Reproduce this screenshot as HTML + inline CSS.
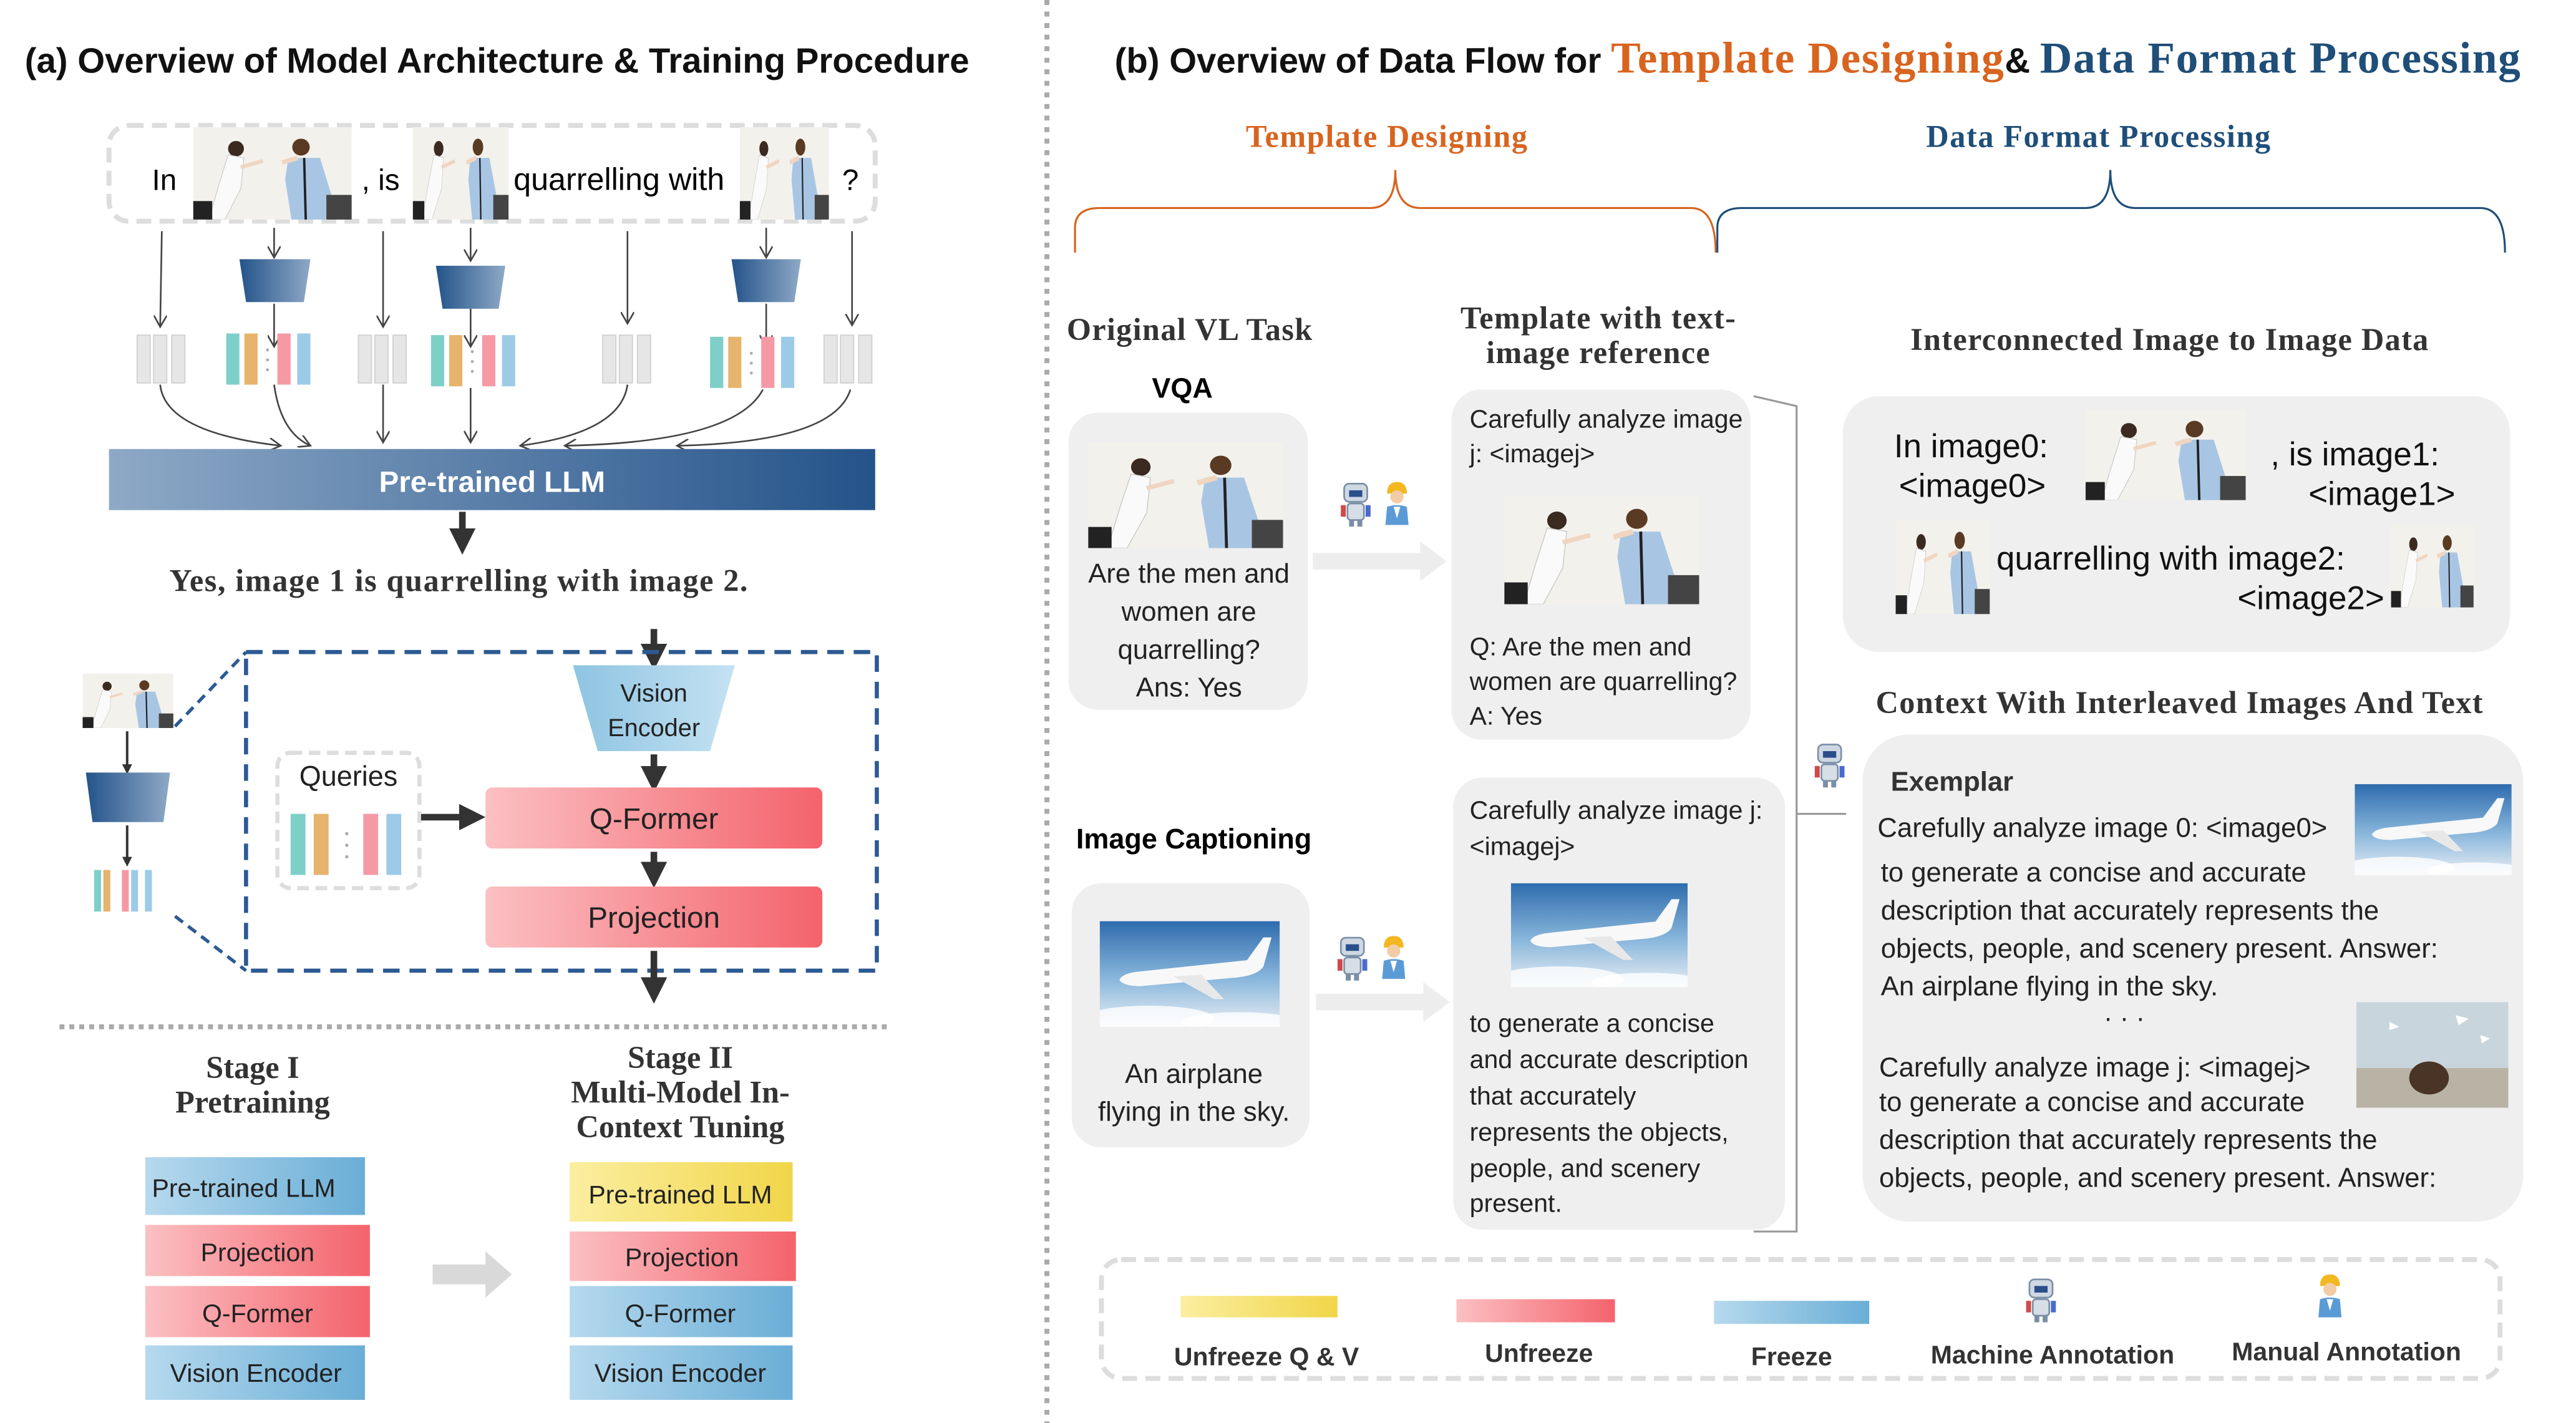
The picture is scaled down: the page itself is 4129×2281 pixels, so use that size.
<!DOCTYPE html>
<html><head><meta charset="utf-8"><style>html,body{margin:0;padding:0;background:#fff;overflow:hidden}svg{display:block}</style></head>
<body>
<svg width="4129" height="2281" viewBox="0 0 1560 862" preserveAspectRatio="none" xmlns="http://www.w3.org/2000/svg" font-family="Liberation Sans, sans-serif">
<defs>
<linearGradient id="llm" x1="0" x2="1"><stop offset="0" stop-color="#8ea9c6"/><stop offset="1" stop-color="#24538a"/></linearGradient>
<linearGradient id="enc" x1="0" x2="1"><stop offset="0" stop-color="#24538a"/><stop offset="1" stop-color="#8ea9c6"/></linearGradient>
<linearGradient id="ve" x1="0" x2="1"><stop offset="0" stop-color="#8ec4e2"/><stop offset="1" stop-color="#c4e2f2"/></linearGradient>
<linearGradient id="pink" x1="0" x2="1"><stop offset="0" stop-color="#fbc0c3"/><stop offset="1" stop-color="#f4636c"/></linearGradient>
<linearGradient id="blue" x1="0" x2="1"><stop offset="0" stop-color="#b6d9ee"/><stop offset="1" stop-color="#6aaed6"/></linearGradient>
<linearGradient id="yel" x1="0" x2="1"><stop offset="0" stop-color="#fbeea0"/><stop offset="1" stop-color="#f1d64a"/></linearGradient>
<linearGradient id="sky" x1="0" x2="0" y1="0" y2="1"><stop offset="0" stop-color="#2e6cae"/><stop offset=".55" stop-color="#8ab7dc"/><stop offset="1" stop-color="#e8eef4"/></linearGradient>
<marker id="ah" markerWidth="8" markerHeight="8" refX="7" refY="4" orient="auto"><path d="M0,0 L7,4 L0,8" fill="none" stroke="#444" stroke-width="1"/></marker>
<marker id="bh" markerWidth="4" markerHeight="4" refX="2" refY="2" orient="auto"><path d="M0,0 L4,2 L0,4z" fill="#333"/></marker>
<symbol id="men" viewBox="0 0 100 60" preserveAspectRatio="none"><rect width="100" height="60" fill="#f3f1ec"/>
<circle cx="27" cy="14" r="5" fill="#3a2a20"/><path d="M22,18 L32,20 L30,40 L20,60 L10,60 L16,38z" fill="#fafafa" stroke="#ccc" stroke-width=".5"/><path d="M30,26 L44,22" stroke="#f0d5c0" stroke-width="2.5"/><rect x="0" y="48" width="12" height="12" fill="#222"/>
<circle cx="68" cy="13" r="5.5" fill="#5a3a22"/><path d="M60,20 L80,20 L92,60 L62,60 L58,34z" fill="#a8c6e4"/><path d="M66,20 L56,23" stroke="#f0d5c0" stroke-width="3"/><path d="M70,20 L71,60" stroke="#222" stroke-width="1.5"/><rect x="84" y="44" width="16" height="16" fill="#444"/></symbol>
<symbol id="plane" viewBox="0 0 110 65" preserveAspectRatio="none"><rect width="110" height="65" fill="url(#sky)"/><ellipse cx="30" cy="60" rx="40" ry="8" fill="#fff" opacity=".8"/><ellipse cx="85" cy="62" rx="35" ry="6" fill="#fff" opacity=".8"/>
<path d="M12,36 Q14,32 24,31 L90,24 L100,10 L105,10 L100,28 Q96,34 80,35 L25,40 Q14,40 12,36z" fill="#f8f8f8"/><path d="M45,34 L70,48 L76,48 L62,33z" fill="#e8e8e8"/></symbol>
<symbol id="bear" viewBox="0 0 92 64" preserveAspectRatio="none"><rect width="92" height="64" fill="#c9d5dc"/><rect y="40" width="92" height="24" fill="#b9b3a6"/><ellipse cx="44" cy="46" rx="12" ry="10" fill="#4a3426"/><path d="M20,12 l6,3 l-6,2z M60,8 l8,2 l-6,4z M75,20 l6,2 l-5,3z" fill="#fff"/></symbol>
<symbol id="robot" viewBox="0 0 20 30"><rect x="3" y="3" width="14" height="11" rx="3" fill="#cfd8e2" stroke="#7a8fa6"/><rect x="6" y="7" width="8" height="4" fill="#2a4e8a"/><rect x="5" y="15" width="10" height="10" rx="2" fill="#d6dee6" stroke="#7a8fa6"/><rect x="1" y="16" width="3" height="7" fill="#d04a4a"/><rect x="16" y="16" width="3" height="7" fill="#4a6ad0"/><rect x="6" y="25" width="3" height="4" fill="#7a8fa6"/><rect x="11" y="25" width="3" height="4" fill="#7a8fa6"/></symbol>
<symbol id="worker" viewBox="0 0 20 30"><path d="M4,9 Q4,2 10,2 Q16,2 16,9z" fill="#f3b71f"/><circle cx="10" cy="11" r="4" fill="#f1cca4"/><path d="M3,28 L4,17 Q10,15 16,17 L17,28z" fill="#5b9bd5"/><path d="M8,17 L10,24 L12,17" fill="#fff"/></symbol>
</defs>

<!-- ===== Panel A ===== -->
<text x="15" y="44" font-size="21.3" font-weight="bold" fill="#111">(a) Overview of Model Architecture &amp; Training Procedure</text>
<rect x="66" y="76" width="464" height="58" rx="12" fill="none" stroke="#ddd" stroke-width="3" stroke-dasharray="9,5"/>
<text x="92" y="115" font-size="18">In</text>
<use href="#men" x="117" y="77" width="96" height="56"/>
<text x="219" y="115" font-size="18">, is</text>
<use href="#men" x="250" y="77" width="58" height="56"/>
<text x="311" y="115" font-size="19">quarrelling with</text>
<use href="#men" x="448" y="77" width="54" height="56"/>
<text x="510" y="115" font-size="18">?</text>

<g stroke="#444" stroke-width="1" fill="none" marker-end="url(#ah)">
<path d="M98,140 L97,198"/><path d="M166,138 L166,156"/><path d="M232,140 L232,198"/><path d="M285,138 L285,158"/><path d="M380,140 L380,196"/><path d="M464,138 L464,156"/><path d="M516,140 L516,197"/>
<path d="M166,184 L166,210"/><path d="M285,187 L285,210"/><path d="M464,184 L464,210"/>
<path d="M97,233 Q100,262 170,270"/><path d="M166,233 Q170,262 188,270"/><path d="M232,233 L232,268"/><path d="M285,235 L285,268"/><path d="M380,233 Q376,262 315,270"/><path d="M462,236 Q445,268 342,270"/><path d="M515,236 Q505,268 410,270"/>
</g>
<g fill="url(#enc)"><path d="M145,157 L188,157 L184,183 L149,183z"/><path d="M264,161 L306,161 L302,187 L268,187z"/><path d="M443,157 L485,157 L481,183 L447,183z"/></g>
<g id="gtok"><rect x="83" y="203" width="8" height="29" fill="#e6e6e6" stroke="#ccc" stroke-width=".6"/><rect x="93" y="203" width="8" height="29" fill="#e6e6e6" stroke="#ccc" stroke-width=".6"/><rect x="104" y="203" width="8" height="29" fill="#e6e6e6" stroke="#ccc" stroke-width=".6"/></g>
<use href="#gtok" x="134"/><use href="#gtok" x="282"/><use href="#gtok" x="416"/>
<g id="ctok"><rect x="137" y="202" width="8" height="31" fill="#7fcfc9"/><rect x="148" y="202" width="8" height="31" fill="#e6b46c"/><rect x="168" y="202" width="8" height="31" fill="#f59aa5"/><rect x="180" y="202" width="8" height="31" fill="#9ccbe8"/><circle cx="162" cy="212" r=".9" fill="#aaa"/><circle cx="162" cy="218" r=".9" fill="#aaa"/><circle cx="162" cy="224" r=".9" fill="#aaa"/></g>
<use href="#ctok" x="124" y="1"/><use href="#ctok" x="293" y="2"/>
<rect x="66" y="272" width="464" height="37" fill="url(#llm)"/>
<text x="298" y="298" font-size="18" font-weight="bold" fill="#fff" text-anchor="middle">Pre-trained LLM</text>
<path d="M280,310 L280,328" stroke="#333" stroke-width="4" marker-end="url(#bh)"/>
<text x="278" y="358" font-size="19" font-weight="bold" font-family="Liberation Serif, serif" fill="#333" text-anchor="middle" letter-spacing=".6">Yes, image 1 is quarrelling with image 2.</text>

<path d="M396,381 L396,398" stroke="#333" stroke-width="4" marker-end="url(#bh)"/>
<rect x="149" y="395" width="382" height="193" fill="none" stroke="#2c5a92" stroke-width="2.5" stroke-dasharray="10,6"/>
<path d="M106,440 L149,395 M106,555 L149,588" stroke="#2c5a92" stroke-width="2" stroke-dasharray="6,4"/>
<use href="#men" x="50" y="408" width="55" height="33"/>
<path d="M77,443 L77,466" stroke="#333" stroke-width="1.5" marker-end="url(#bh)"/>
<path d="M52,468 L103,468 L99,498 L56,498z" fill="url(#enc)"/>
<path d="M77,500 L77,522" stroke="#333" stroke-width="1.5" marker-end="url(#bh)"/>
<g transform="translate(57,527) scale(.7)"><rect x="0" y="0" width="6" height="36" fill="#7fcfc9"/><rect x="8" y="0" width="6" height="36" fill="#e6b46c"/><rect x="24" y="0" width="6" height="36" fill="#f59aa5"/><rect x="32" y="0" width="6" height="36" fill="#9ccbe8"/><rect x="44" y="0" width="6" height="36" fill="#9ccbe8"/></g>
<path d="M347,403 L445,403 L430,455 L362,455z" fill="url(#ve)"/>
<text x="396" y="425" font-size="15" text-anchor="middle" fill="#222">Vision</text>
<text x="396" y="446" font-size="15" text-anchor="middle" fill="#222">Encoder</text>
<path d="M396,457 L396,472" stroke="#333" stroke-width="4" marker-end="url(#bh)"/>
<rect x="168" y="456" width="86" height="82" rx="8" fill="none" stroke="#ddd" stroke-width="2.5" stroke-dasharray="7,4"/>
<text x="211" y="476" font-size="17" text-anchor="middle" fill="#222">Queries</text>
<g><rect x="176" y="493" width="9" height="37" fill="#7fcfc9"/><rect x="190" y="493" width="9" height="37" fill="#e6b46c"/><rect x="220" y="493" width="9" height="37" fill="#f59aa5"/><rect x="234" y="493" width="9" height="37" fill="#9ccbe8"/><circle cx="210" cy="505" r="1" fill="#aaa"/><circle cx="210" cy="512" r="1" fill="#aaa"/><circle cx="210" cy="519" r="1" fill="#aaa"/></g>
<path d="M255,495 L286,495" stroke="#333" stroke-width="4" marker-end="url(#bh)"/>
<rect x="294" y="477" width="204" height="37" rx="4" fill="url(#pink)"/>
<text x="396" y="502" font-size="18" text-anchor="middle" fill="#222">Q-Former</text>
<path d="M396,516 L396,530" stroke="#333" stroke-width="4" marker-end="url(#bh)"/>
<rect x="294" y="537" width="204" height="37" rx="4" fill="url(#pink)"/>
<text x="396" y="562" font-size="18" text-anchor="middle" fill="#222">Projection</text>
<path d="M396,576 L396,600" stroke="#333" stroke-width="4" marker-end="url(#bh)"/>

<line x1="36" y1="622" x2="540" y2="622" stroke="#aaa" stroke-width="3" stroke-dasharray="3,3"/>
<g font-family="Liberation Serif, serif" font-weight="bold" font-size="19" fill="#333" text-anchor="middle">
<text x="153" y="653">Stage I</text><text x="153" y="674">Pretraining</text>
<text x="412" y="647">Stage II</text><text x="412" y="668">Multi-Model In-</text><text x="412" y="689">Context Tuning</text></g>
<g font-size="15.5" fill="#222">
<rect x="88" y="701" width="133" height="35" fill="url(#blue)"/><text x="92" y="725">Pre-trained LLM</text>
<rect x="88" y="742" width="136" height="31" fill="url(#pink)"/><text x="156" y="764" text-anchor="middle">Projection</text>
<rect x="88" y="779" width="136" height="31" fill="url(#pink)"/><text x="156" y="801" text-anchor="middle">Q-Former</text>
<rect x="88" y="815" width="133" height="33" fill="url(#blue)"/><text x="155" y="837" text-anchor="middle">Vision Encoder</text>
<rect x="345" y="704" width="135" height="36" fill="url(#yel)"/><text x="412" y="729" text-anchor="middle">Pre-trained LLM</text>
<rect x="345" y="746" width="137" height="30" fill="url(#pink)"/><text x="413" y="767" text-anchor="middle">Projection</text>
<rect x="345" y="779" width="135" height="31" fill="url(#blue)"/><text x="412" y="801" text-anchor="middle">Q-Former</text>
<rect x="345" y="815" width="135" height="33" fill="url(#blue)"/><text x="412" y="837" text-anchor="middle">Vision Encoder</text></g>
<path d="M262,766 L294,766 L294,758 L310,772 L294,786 L294,778 L262,778z" fill="#d9d9d9"/>

<line x1="634" y1="0" x2="634" y2="862" stroke="#aaa" stroke-width="3" stroke-dasharray="3,4"/>

<!-- ===== Panel B ===== -->
<text x="675" y="44" font-size="21.3" font-weight="bold" fill="#111">(b) Overview of Data Flow for <tspan font-family="Liberation Serif, serif" font-size="27" fill="#d8641f" letter-spacing=".6">Template Designing</tspan><tspan>&amp; </tspan><tspan font-family="Liberation Serif, serif" font-size="27" fill="#1f4e79" letter-spacing=".6">Data Format Processing</tspan></text>
<g font-family="Liberation Serif, serif" font-weight="bold" font-size="19" text-anchor="middle" letter-spacing=".6">
<text x="840" y="89" fill="#d8641f">Template Designing</text>
<text x="1271" y="89" fill="#1f4e79">Data Format Processing</text></g>
<path d="M651,153 L651,138 Q651,126 666,126 L830,126 Q845,126 845,103 Q845,126 860,126 L1024,126 Q1039,126 1039,153" fill="none" stroke="#d8641f" stroke-width="1.2"/>
<path d="M1040,153 L1040,138 Q1040,126 1055,126 L1263,126 Q1278,126 1278,103 Q1278,126 1293,126 L1502,126 Q1517,126 1517,153" fill="none" stroke="#1f4e79" stroke-width="1.2"/>
<g font-family="Liberation Serif, serif" font-weight="bold" font-size="19" fill="#333" letter-spacing=".5">
<text x="646" y="206">Original VL Task</text>
<text x="968" y="199" text-anchor="middle">Template with text-</text><text x="968" y="220" text-anchor="middle">image reference</text>
<text x="1314" y="212" text-anchor="middle">Interconnected Image to Image Data</text>
<text x="1320" y="432" text-anchor="middle">Context With Interleaved Images And Text</text></g>

<text x="716" y="241" font-size="17" font-weight="bold" text-anchor="middle">VQA</text>
<rect x="647" y="250" width="145" height="180" rx="18" fill="#efefef"/>
<use href="#men" x="659" y="268" width="118" height="64"/>
<g font-size="16.5" fill="#222" text-anchor="middle"><text x="720" y="353">Are the men and</text><text x="720" y="376">women are</text><text x="720" y="399">quarrelling?</text><text x="720" y="422">Ans: Yes</text></g>
<use href="#robot" x="811" y="290" width="20" height="30"/><use href="#worker" x="836" y="290" width="20" height="30"/>
<path d="M795,335 L860,335 L860,328 L876,340 L860,352 L860,345 L795,345z" fill="#ededed"/>
<rect x="879" y="236" width="181" height="212" rx="18" fill="#efefef"/>
<g font-size="15.5" fill="#222"><text x="890" y="259">Carefully analyze image</text><text x="890" y="280">j: &lt;imagej&gt;</text><text x="890" y="397">Q: Are the men and</text><text x="890" y="418">women are quarrelling?</text><text x="890" y="439">A: Yes</text></g>
<use href="#men" x="911" y="300" width="118" height="66"/>

<text x="723" y="514" font-size="17" font-weight="bold" text-anchor="middle">Image Captioning</text>
<rect x="649" y="535" width="144" height="160" rx="18" fill="#efefef"/>
<use href="#plane" x="666" y="558" width="109" height="64"/>
<g font-size="16.5" fill="#222" text-anchor="middle"><text x="723" y="656">An airplane</text><text x="723" y="679">flying in the sky.</text></g>
<use href="#robot" x="809" y="565" width="20" height="30"/><use href="#worker" x="834" y="565" width="20" height="30"/>
<path d="M797,602 L862,602 L862,595 L878,607 L862,619 L862,612 L797,612z" fill="#ededed"/>
<rect x="880" y="471" width="201" height="274" rx="18" fill="#efefef"/>
<g font-size="15.5" fill="#222"><text x="890" y="496">Carefully analyze image j:</text><text x="890" y="518">&lt;imagej&gt;</text>
<text x="890" y="625">to generate a concise</text><text x="890" y="647">and accurate description</text><text x="890" y="669">that accurately</text><text x="890" y="691">represents the objects,</text><text x="890" y="713">people, and scenery</text><text x="890" y="734">present.</text></g>
<use href="#plane" x="915" y="535" width="107" height="63"/>

<path d="M1062,240 L1088,246 L1088,746 L1062,746 M1088,493 L1118,493" fill="none" stroke="#999" stroke-width="1.2"/>
<use href="#robot" x="1098" y="448" width="20" height="30"/>

<rect x="1116" y="240" width="404" height="155" rx="22" fill="#efefef"/>
<g font-size="20" fill="#111"><text x="1147" y="277">In image0:</text><text x="1150" y="301">&lt;image0&gt;</text>
<text x="1375" y="282">, is  image1:</text><text x="1398" y="306">&lt;image1&gt;</text>
<text x="1209" y="345">quarrelling with image2:</text><text x="1355" y="369">&lt;image2&gt;</text></g>
<use href="#men" x="1263" y="248" width="97" height="55"/>
<use href="#men" x="1148" y="315" width="57" height="57"/>
<use href="#men" x="1448" y="318" width="50" height="50"/>

<rect x="1128" y="445" width="400" height="295" rx="28" fill="#efefef"/>
<g font-size="16.5" fill="#222"><text x="1145" y="479" font-weight="bold" fill="#333">Exemplar</text>
<text x="1137" y="507">Carefully analyze image 0: &lt;image0&gt;</text>
<text x="1139" y="534">to generate a concise and accurate</text><text x="1139" y="557">description that accurately represents the</text><text x="1139" y="580">objects, people, and scenery present.  Answer:</text><text x="1139" y="603">An airplane flying in the sky.</text>
<text x="1274" y="622" font-size="16">·  ·  ·</text>
<text x="1138" y="652">Carefully analyze image j: &lt;imagej&gt;</text><text x="1138" y="673">to generate a concise and accurate</text><text x="1138" y="696">description that accurately represents the</text><text x="1138" y="719">objects, people, and scenery present.  Answer:</text></g>
<use href="#plane" x="1426" y="475" width="95" height="55"/>
<use href="#bear" x="1427" y="607" width="92" height="64"/>

<rect x="667" y="763" width="847" height="72" rx="12" fill="none" stroke="#ddd" stroke-width="3" stroke-dasharray="9,5"/>
<rect x="715" y="785" width="95" height="13" fill="url(#yel)"/>
<rect x="882" y="787" width="96" height="14" fill="url(#pink)"/>
<rect x="1038" y="788" width="94" height="14" fill="url(#blue)"/>
<use href="#robot" x="1226" y="772" width="20" height="30"/>
<use href="#worker" x="1401" y="770" width="20" height="30"/>
<g font-size="15.5" font-weight="bold" fill="#333" text-anchor="middle">
<text x="767" y="827">Unfreeze Q &amp; V</text><text x="932" y="825">Unfreeze</text><text x="1085" y="827">Freeze</text><text x="1243" y="826">Machine  Annotation</text><text x="1421" y="824">Manual  Annotation</text></g>
</svg>
</body></html>
